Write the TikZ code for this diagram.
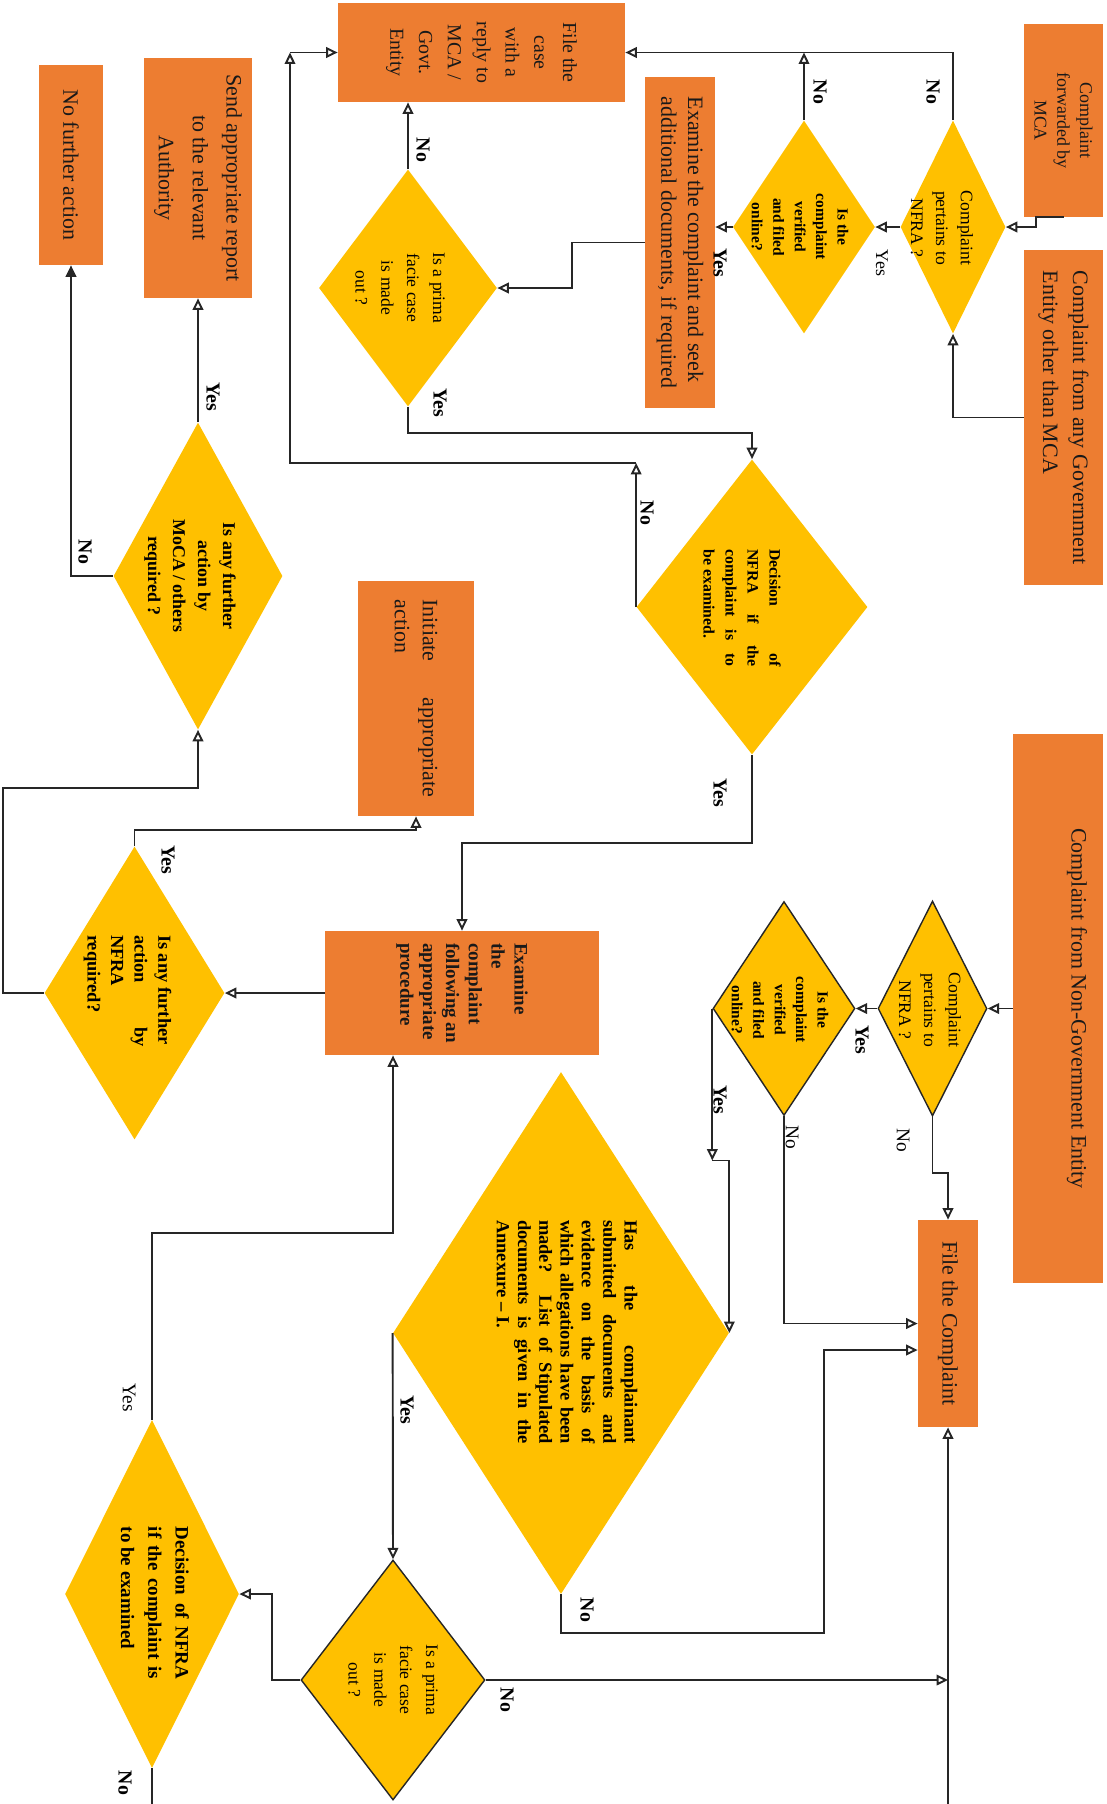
\documentclass[tikz,border=0pt]{standalone}
\usepackage{fontspec}
\setmainfont{Liberation Serif}
\usetikzlibrary{shapes.geometric,arrows.meta}
\definecolor{boxorange}{HTML}{ED7D31}
\definecolor{diagold}{HTML}{FFC000}
\newcommand{\fsz}[2]{\fontsize{#1}{#2}\selectfont}

\begin{document}
\begin{tikzpicture}[rotate=-90, transform shape]
    \tikzset{
      proc/.style={rectangle, fill=boxorange, inner sep=0pt, text=black!90},
      decide/.style={diamond, fill=diagold, inner sep=0pt},
      decideline/.style={decide, draw=black!85, line width=0.8pt},
      dtext/.style={align=center, inner sep=0pt, text=black},
      arr/.style={draw=black!85, line width=1.1pt, -{Triangle[open, length=6.5pt, width=6pt]}},
      arrfill/.style={draw=black!85, line width=1.1pt, -{Triangle[length=6.5pt, width=6pt]}},
      lbl/.style={inner sep=0pt, font=\fsz{11.3}{13}\bfseries},
      lblr/.style={inner sep=0pt, font=\fsz{11}{13}}
    }
    \useasboundingbox (0,0) rectangle (36.08,22.14);

    % Sources - complaints coming in
    \node[proc, minimum width=3.86cm, minimum height=1.58cm, align=center, font=\fsz{10.2}{13}] (mca) at (2.41,21.27) {Complaint\\forwarded by\\MCA};
    \node[proc, minimum width=6.70cm, minimum height=1.58cm, align=left, font=\fsz{12.5}{17}] (govt) at (8.35,21.27) {Complaint from any Government\\Entity other than MCA};
    \node[proc, minimum width=10.98cm, minimum height=1.80cm, text depth=0.85cm, font=\fsz{12.5}{15}] (nongovt) at (20.17,21.16) {Complaint from Non-Government Entity};

    % Government branch - checks
    \node[decide, minimum width=4.26cm, minimum height=2.10cm] (pert1) at (4.54,19.06) {};
    \node[dtext, font=\fsz{10}{14.2}] (pert1txt) at (4.56,18.84) {Complaint\\pertains to\\NFRA ?};
    \node[decide, minimum width=4.26cm, minimum height=2.84cm] (verif1) at (4.54,16.08) {};
    \node[dtext, font=\fsz{8.8}{12.2}\bfseries] (verif1txt) at (4.54,16.00) {Is the\\complaint\\verified\\and filed\\online?};
    \node[proc, minimum width=1.98cm, minimum height=5.74cm, align=center, font=\fsz{11.3}{16.4}] (filecase) at (1.05,9.63) {File the\\case\\with a\\reply to\\MCA /\\Govt.\\Entity};
    \node[proc, minimum width=6.62cm, minimum height=1.40cm, align=left, font=\fsz{12.5}{15.3}] (seek) at (4.85,13.60) {Examine the complaint and seek\\additional documents, if required};
    \node[decide, minimum width=4.74cm, minimum height=3.56cm] (prima1) at (5.76,8.16) {};
    \node[dtext, font=\fsz{10}{14.7}] (prima1txt) at (5.76,8.00) {Is a prima\\facie case\\is made\\out ?};
    \node[decide, minimum width=5.90cm, minimum height=4.62cm] (dec1) at (12.14,15.04) {};
    \node[dtext, align=left, font=\fsz{9}{12.5}\bfseries] (dec1txt) at (12.16,14.84) {\makebox[2.34cm][s]{Decision of}\\\makebox[2.34cm][s]{NFRA if the}\\\makebox[2.34cm][s]{complaint is to}\\be examined.};

    % Outcomes on the left
    \node[decide, minimum width=6.14cm, minimum height=3.38cm] (moca) at (11.52,3.96) {};
    \node[dtext, font=\fsz{10.2}{14.2}\bfseries] (mocatxt) at (11.52,3.80) {Is any further\\action by\\MoCA / others\\required ?};
    \node[proc, minimum width=4.80cm, minimum height=2.16cm, align=center, font=\fsz{12.5}{19.3}] (report) at (3.56,3.96) {Send appropriate report\\to the relevant\\Authority};
    \node[proc, minimum width=4.00cm, minimum height=1.28cm, font=\fsz{12.5}{15}] (nofurther) at (3.30,1.42) {No further action};
    \node[proc, minimum width=4.70cm, minimum height=2.32cm, align=left, font=\fsz{12.5}{15.9}] (initiate) at (13.97,8.32) {\makebox[3.96cm][s]{Initiate appropriate}\\action};
    \node[proc, minimum width=2.48cm, minimum height=5.48cm, align=left, font=\fsz{10.8}{13}\bfseries] (examine) at (19.86,9.24) {Examine\\the\\complaint\\following an\\appropriate\\procedure};
    \node[decide, minimum width=5.86cm, minimum height=3.60cm] (nfrafur) at (19.86,2.69) {};
    \node[dtext, align=left, font=\fsz{10.5}{13.4}\bfseries] (nfrafurtxt) at (19.82,2.55) {Is any further\\\makebox[2.24cm][s]{action by}\\NFRA\\required?};

    % Non-government branch
    \node[decideline, minimum width=4.30cm, minimum height=2.18cm] (pert2) at (20.17,18.65) {};
    \node[dtext, font=\fsz{10}{14.2}] (pert2txt) at (20.20,18.60) {Complaint\\pertains to\\NFRA ?};
    \node[decideline, minimum width=4.28cm, minimum height=2.84cm] (verif2) at (20.17,15.68) {};
    \node[dtext, font=\fsz{8.8}{12.2}\bfseries] (verif2txt) at (20.20,15.60) {Is the\\complaint\\verified\\and filed\\online?};
    \node[proc, minimum width=4.14cm, minimum height=1.20cm, font=\fsz{12.5}{15}] (filecomp) at (26.47,18.96) {File the Complaint};
    \node[decide, minimum width=10.44cm, minimum height=6.72cm] (big) at (26.66,11.22) {};
    \node[dtext, align=left, font=\fsz{10.5}{12.1}\bfseries] (bigtxt) at (26.64,11.34) {\makebox[4.48cm][s]{Has the complainant}\\\makebox[4.48cm][s]{submitted documents and}\\\makebox[4.48cm][s]{evidence on the basis of}\\\makebox[4.48cm][s]{which allegations have been}\\\makebox[4.48cm][s]{made? List of Stipulated}\\\makebox[4.48cm][s]{documents is given in the}\\Annexure – I.};
    \node[decideline, minimum width=4.80cm, minimum height=3.68cm] (prima2) at (33.60,7.86) {};
    \node[dtext, font=\fsz{10}{14.7}] (prima2txt) at (33.60,7.86) {Is a prima\\facie case\\is made\\out ?};
    \node[decide, minimum width=6.96cm, minimum height=3.48cm] (dec2) at (31.88,3.04) {};
    \node[dtext, align=left, font=\fsz{10.8}{15.5}\bfseries] (dec2txt) at (32.06,3.10) {\makebox[3.05cm][s]{Decision of NFRA}\\\makebox[3.05cm][s]{if the complaint is}\\to be examined};

    % Connectors - government branch
    \draw[arr] (mca.east) -- ++(0,-0.55) -| (pert1.north);
    \draw[arr] (govt.south) |- (pert1.east);
    \draw[arr] (pert1.west) -| (filecase.north);
    \draw[arr] (verif1.west) -- (verif1.west -| filecase.north);
    \draw[arr] (pert1.south) -- (verif1.north);
    \draw[arr] (verif1.south) -- (verif1.south |- seek.north);
    \draw[arr] (seek.south) -- ++(0,-1.46) -| (prima1.north);
    \draw[arr] (prima1.west) -- (prima1.west -| filecase.east);
    \draw[arr] (prima1.east) -- ++(0.53,0) |- (dec1.west);

    % No from decision - back to the file-case box
    \coordinate (backturn) at (1.05,5.80);
    \draw[arr] (dec1.south) -- ++(-2.88,0) coordinate (dec1no);
    \draw[arr] (dec1no) |- (backturn);
    \draw[arr] (backturn) -- (backturn |- filecase.south);

    % Examination and further action
    \coordinate (loopturn) at (15.76,0.06);
    \draw[arr] (dec1.east) -- ++(1.77,0) |- (examine.west);
    \draw[arr] (examine.south) -- (nfrafur.north);
    \draw[arr] (nfrafur.west) -- ++(-0.33,0) |- (initiate.east);
    \draw[arr] (nfrafur.south) |- (loopturn) |- (moca.east);
    \draw[arr] (moca.west) -- (report.east);
    \draw[arrfill] (moca.south) |- (nofurther.east);

    % Connectors - non-government branch
    \coordinate (bigturn) at (27.00,16.48);
    \coordinate (rettail) at (36.08,18.96);
    \coordinate (dectail) at (36.08,3.04);
    \coordinate (dec2yes) at (24.66,7.86);
    \draw[arr] (nongovt.south) -- (pert2.north);
    \draw[arr] (pert2.south) -- (verif2.north);
    \draw[arr] (pert2.east) -- ++(1.12,0) |- (filecomp.west);
    \draw[arr] (verif2.east) -| (filecomp.south);
    \draw[arr] (verif2.south) -- ++(3.04,0) coordinate (verif2yes);
    \draw[arr] (verif2yes) -- (verif2yes |- big.north) -- (big.north);
    \draw[arr] (big.south) -- (prima2.west);
    \draw[arr] (big.east) -- ++(0.78,0) |- (bigturn) -- (filecomp.south -| bigturn);
    \draw[arr] (rettail) -- (filecomp.east);
    \draw[arr] (prima2.north) -- (prima2.north |- rettail);
    \draw[arr] (prima2.south) -- ++(0,-0.56) -| (dec2.north);
    \draw[draw=black!85, line width=1.1pt] (dec2.east) -- (dectail);
    \draw[arr] (dec2.west) -| (dec2yes) -- (examine.east |- dec2yes);

    % Yes / No labels
    \node[lbl] (no1) at (1.84,18.66) {No};
    \node[lbl] (no2) at (1.84,16.40) {No};
    \node[inner sep=0pt, font=\fsz{10.2}{12}] (yes1) at (5.26,17.64) {Yes};
    \node[lbl] (yes2) at (5.26,14.40) {Yes};
    \node[lbl] (no3) at (3.00,8.46) {No};
    \node[lbl] (yes3) at (8.06,8.80) {Yes};
    \node[lbl] (no4) at (10.26,12.94) {No};
    \node[lbl] (yes4) at (15.86,14.40) {Yes};
    \node[lbl] (yes5) at (7.94,4.26) {Yes};
    \node[lbl] (no5) at (11.04,1.70) {No};
    \node[lbl] (yes6) at (17.20,3.36) {Yes};
    \node[lbl] (yes7) at (20.80,17.24) {Yes};
    \node[lblr] (no6) at (22.80,18.06) {No};
    \node[lblr] (no7) at (22.74,15.84) {No};
    \node[lbl] (yes8) at (22.00,14.40) {Yes};
    \node[lbl] (yes9) at (28.20,8.14) {Yes};
    \node[lbl] (no8) at (32.20,11.74) {No};
    \node[lbl] (no9) at (34.00,10.14) {No};
    \node[lblr] (yes10) at (27.96,2.58) {Yes};
    \node[lbl] (no10) at (35.66,2.50) {No};
\end{tikzpicture}
\end{document}
